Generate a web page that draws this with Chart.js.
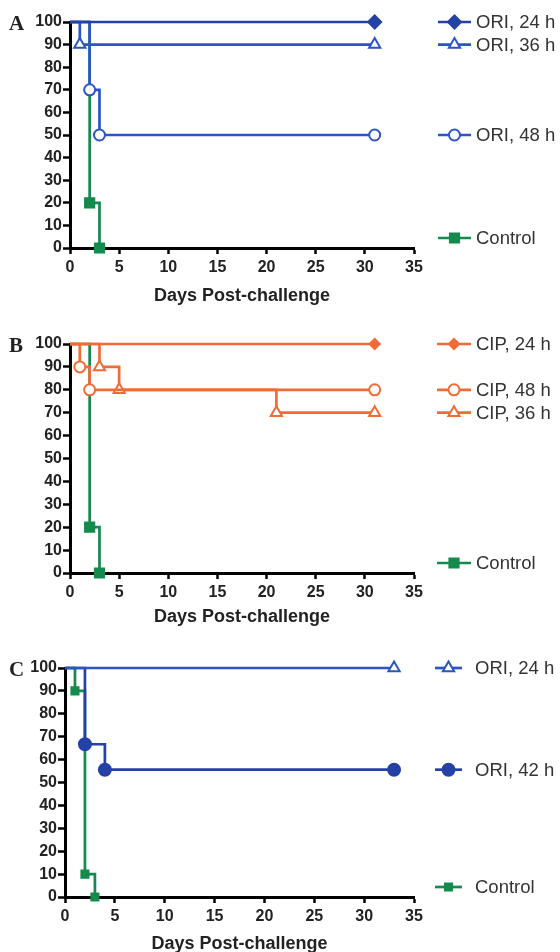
<!DOCTYPE html>
<html>
<head>
<meta charset="utf-8">
<script src="https://cdn.jsdelivr.net/npm/chart.js@4/dist/chart.umd.min.js"></script>
<style>
  html, body { margin: 0; background: #fff; overflow: hidden; }
  canvas { display: block; }
</style>
</head>
<body>
<canvas id="chartA" width="560" height="312"></canvas>
<canvas id="chartB" width="560" height="321"></canvas>
<canvas id="chartC" width="560" height="327"></canvas>
<script>
// Panel A (ORI)
var daysA24 = [0, 31],        survA24 = [100, 100];
var daysA36 = [0, 1, 31],     survA36 = [100, 90, 90];
var daysA48 = [0, 2, 3, 31],  survA48 = [100, 70, 50, 50];
var daysACtl = [0, 2, 3],     survACtl = [100, 20, 0];

// Panel B (CIP)
var daysB24 = [0, 31],            survB24 = [100, 100];
var daysB48 = [0, 1, 2, 31],      survB48 = [100, 90, 80, 80];
var daysB36 = [0, 3, 5, 21, 31],  survB36 = [100, 90, 80, 70, 70];
var daysBCtl = [0, 2, 3],         survBCtl = [100, 20, 0];

// Panel C (ORI)
var daysC24 = [0, 33],            survC24 = [100, 100];
var daysC42 = [0, 2, 4, 33],      survC42 = [100, 66.7, 55.6, 55.6];
var daysCCtl = [0, 1, 2, 3],      survCCtl = [100, 90, 10, 0];

var xTitle = 'Days Post-challenge';

var blue = '#2b55c2';
var darkBlue = '#2442a6';
var orange = '#f26b36';
var green = '#148a4c';

function series(label, days, surv, color, style, size, filled) {
    return {
        label: label,
        data: days.map(function (d, i) { return { x: d, y: surv[i] }; }),
        borderColor: color,
        borderWidth: 2.7,
        stepped: 'before',
        fill: false,
        clip: false,
        pointStyle: style,
        markerSize: size,
        pointRadius: function (c) { return c.dataIndex === 0 ? 0 : size; },
        pointHoverRadius: 0,
        pointBackgroundColor: filled ? color : '#fff',
        pointBorderColor: color,
        pointBorderWidth: 2
    };
}

// legend drawn beside the plot, each entry at the level of its curve's end
var sideLegend = {
    id: 'sideLegend',
    afterDraw: function (chart, args, opts) {
        var ctx = chart.ctx;
        var yScale = chart.scales.y;
        var area = chart.chartArea;
        ctx.save();
        chart.data.datasets.forEach(function (ds) {
            var last = ds.data[ds.data.length - 1].y;
            var py = Math.min(yScale.getPixelForValue(last), area.bottom - 10);
            ctx.strokeStyle = ds.borderColor;
            ctx.lineWidth = ds.borderWidth;
            ctx.beginPath();
            ctx.moveTo(opts.x0, py);
            ctx.lineTo(opts.x1, py);
            ctx.stroke();
            ctx.fillStyle = ds.pointBackgroundColor;
            ctx.strokeStyle = ds.pointBorderColor;
            ctx.lineWidth = ds.pointBorderWidth;
            Chart.helpers.drawPoint(ctx, {
                pointStyle: ds.pointStyle, radius: ds.markerSize,
                borderWidth: ds.pointBorderWidth, rotation: 0
            }, (opts.x0 + opts.x1) / 2, py);
            ctx.fillStyle = '#333';
            ctx.font = '18.5px "Liberation Sans", Arial, sans-serif';
            ctx.textAlign = 'left';
            ctx.textBaseline = 'middle';
            ctx.fillText(ds.label, opts.tx, py + 1);
        });
        ctx.fillStyle = '#222';
        ctx.font = 'bold 21px "Liberation Serif", "Times New Roman", serif';
        ctx.textBaseline = 'middle';
        ctx.fillText(opts.letter, 9, area.top + 3);
        ctx.restore();
    }
};

function makeChart(id, letter, datasets, top, xHeight, yWidth, x0, x1, tx) {
    var tickFont = { family: '"Liberation Sans", Arial, sans-serif', size: 16, weight: 'bold' };
    return new Chart(document.getElementById(id).getContext('2d'), {
        type: 'line',
        data: { datasets: datasets },
        options: {
            responsive: false,
            animation: false,
            events: [],
            layout: { padding: { top: top, right: 146, left: 0, bottom: 0 } },
            plugins: {
                legend: { display: false },
                tooltip: { enabled: false },
                sideLegend: { letter: letter, x0: x0, x1: x1, tx: tx }
            },
            scales: {
                x: {
                    type: 'linear',
                    min: 0, max: 35,
                    afterFit: function (s) { s.height = xHeight; },
                    border: { color: '#000', width: 3 },
                    grid: { drawOnChartArea: false, tickLength: 6, tickWidth: 2.5, tickColor: '#000' },
                    ticks: { stepSize: 5, color: '#222', font: tickFont, padding: 4, maxRotation: 0 },
                    title: {
                        display: true, text: xTitle, color: '#222',
                        font: { family: '"Liberation Sans", Arial, sans-serif', size: 18, weight: 'bold' },
                        padding: { top: 2, bottom: 5 }
                    }
                },
                y: {
                    min: 0, max: 100,
                    afterFit: function (s) { s.width = yWidth; },
                    border: { color: '#000', width: 3 },
                    grid: { drawOnChartArea: false, tickLength: 7, tickWidth: 2.5, tickColor: '#000' },
                    ticks: { stepSize: 10, color: '#222', font: tickFont, padding: 1 }
                }
            }
        },
        plugins: [sideLegend]
    });
}

makeChart('chartA', 'A', [
    series('ORI, 24 h', daysA24, survA24, darkBlue, 'rectRot', 6.5, true),
    series('ORI, 36 h', daysA36, survA36, blue, 'triangle', 6.5, false),
    series('ORI, 48 h', daysA48, survA48, blue, 'circle', 5.5, false),
    series('Control', daysACtl, survACtl, green, 'rect', 6.5, true)
], 22, 64, 70, 438, 471, 476);

makeChart('chartB', 'B', [
    series('CIP, 24 h', daysB24, survB24, orange, 'rectRot', 5, true),
    series('CIP, 48 h', daysB48, survB48, orange, 'circle', 5.5, false),
    series('CIP, 36 h', daysB36, survB36, orange, 'triangle', 6.5, false),
    series('Control', daysBCtl, survBCtl, green, 'rect', 6.5, true)
], 32, 60, 70, 437, 471, 476);

makeChart('chartC', 'C', [
    series('ORI, 24 h', daysC24, survC24, blue, 'triangle', 6.5, false),
    series('ORI, 42 h', daysC42, survC42, darkBlue, 'circle', 6, true),
    series('Control', daysCCtl, survCCtl, green, 'rect', 5, true)
], 35, 63, 65, 435, 462, 475);
</script>
</body>
</html>
